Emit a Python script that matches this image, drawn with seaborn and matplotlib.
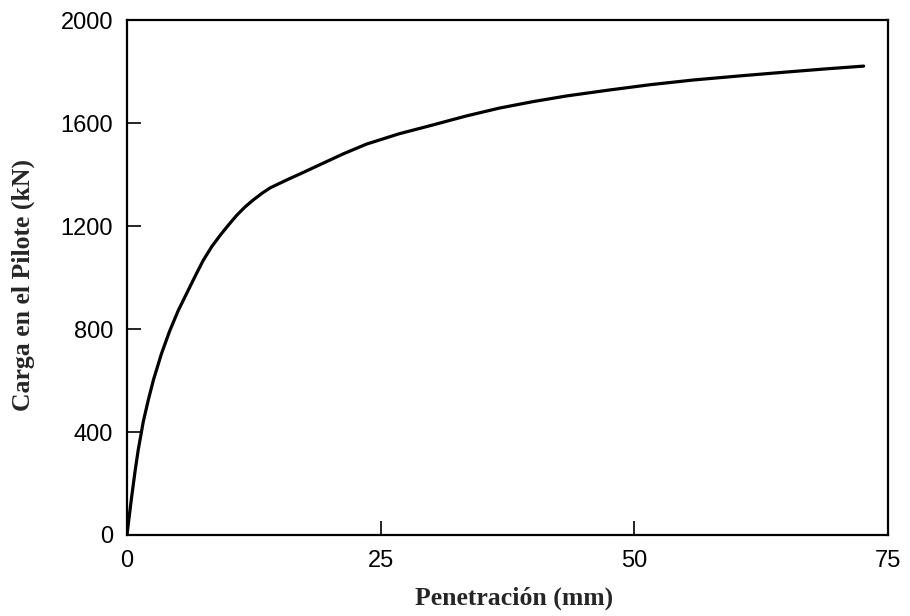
import pandas as pd
import seaborn as sns
import matplotlib.pyplot as plt

# load test curve
penetracion = [0.0, 0.1, 0.46, 0.8, 1.1, 1.6, 2.1, 2.6, 3.4, 4.2, 5.05, 5.9,
               6.7, 7.5, 8.35, 9.2, 10.0, 10.8, 11.6, 12.4, 13.3, 14.1, 15.8,
               17.2, 19.0, 21.3, 23.6, 26.8, 30.1, 33.4, 36.7, 40.0, 43.3,
               47.5, 51.6, 55.8, 60.4, 65.0, 68.8, 72.6]
carga = [0, 35, 150, 250, 330, 440, 525, 602, 705, 792, 872, 940,
         1004, 1066, 1120, 1165, 1204, 1241, 1273, 1300, 1327, 1348, 1380,
         1405, 1438, 1480, 1518, 1558, 1592, 1627, 1658, 1683, 1705,
         1728, 1749, 1767, 1783, 1798, 1810, 1821]

x_ticks = [0, 25, 50, 75]
y_ticks = [0, 400, 800, 1200, 1600, 2000]

df = pd.DataFrame({'Penetracion': penetracion, 'Carga': carga})

sns.set_style('ticks')
plt.rcParams['font.family'] = ['Liberation Sans', 'DejaVu Sans']

fig = plt.figure(figsize=(9.1, 6.16), dpi=100)
ax = fig.add_axes([0.1396, 0.1315, 0.8362, 0.836])
sns.lineplot(data=df, x='Penetracion', y='Carga', ax=ax, color='black',
             linewidth=2.3, sort=False, solid_joinstyle='round',
             solid_capstyle='round')

ax.set_xlim(0, 75)
ax.set_ylim(0, 2000)
ax.set_xticks(x_ticks)
ax.set_yticks(y_ticks)
ax.tick_params(direction='in', length=10, width=1.2, labelsize=17,
               colors='black')
ax.tick_params(axis='y', pad=10)
ax.tick_params(axis='x', pad=11)
for s in ax.spines.values():
    s.set_linewidth(1.6)
    s.set_color('black')

ax.set_xlabel('Penetración (mm)', fontfamily='Liberation Serif',
              fontweight='bold', fontsize=18.5, va='center')
ax.set_ylabel('Carga en el Pilote (kN)', fontfamily='Liberation Serif',
              fontweight='bold', fontsize=18.5, va='center')
ax.xaxis.set_label_coords(0.5085, -0.122)
ax.yaxis.set_label_coords(-0.136, 0.485)

fig.savefig('out.png', dpi=100, facecolor='white')
